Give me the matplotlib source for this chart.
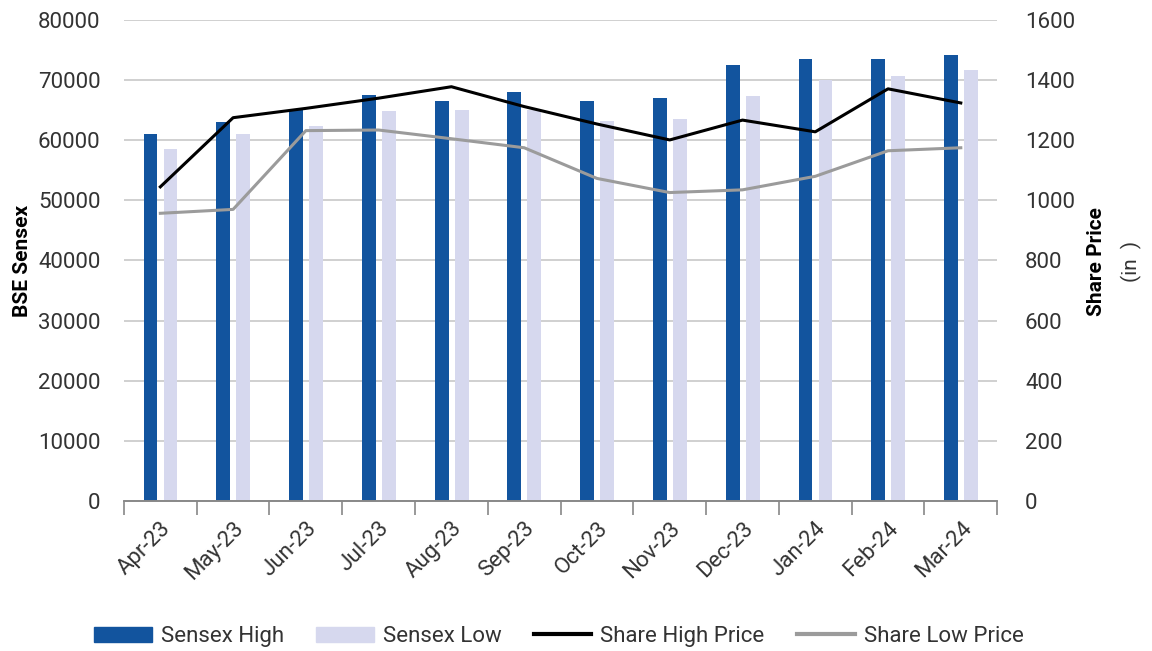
import numpy as np
import matplotlib
matplotlib.use('Agg')
import matplotlib.pyplot as plt
from matplotlib.patches import Patch
from matplotlib.lines import Line2D

plt.rcParams['font.family'] = ['Roboto', 'DejaVu Sans']

months = ['Apr-23', 'May-23', 'Jun-23', 'Jul-23', 'Aug-23', 'Sep-23',
          'Oct-23', 'Nov-23', 'Dec-23', 'Jan-24', 'Feb-24', 'Mar-24']
sensex_high = [61000, 63000, 65000, 67500, 66600, 68000,
               66500, 67000, 72500, 73500, 73500, 74200]
sensex_low = [58500, 61000, 62300, 64800, 65000, 65000,
              63200, 63500, 67400, 70000, 70700, 71700]
share_high = [1045, 1275, 1306, 1340, 1378, 1312,
              1254, 1201, 1267, 1228, 1371, 1324]
share_low = [957, 970, 1232, 1234, 1205, 1175,
             1073, 1026, 1035, 1080, 1165, 1175]

dark_blue = '#12549e'
light_blue = '#d6d8ee'
grey_line = '#9b9b9b'
text_col = '#333333'
fs = 16

fig = plt.figure(figsize=(11.52, 6.51), dpi=100)
ax = fig.add_axes([0.1076, 0.2304, 0.758, 0.7389])
ax2 = ax.twinx()

x = np.arange(len(months))
w = 0.19
ax.bar(x - 0.135, sensex_high, w, color=dark_blue, zorder=2)
ax.bar(x + 0.14, sensex_low, w, color=light_blue, zorder=2)

ax2.plot(x, share_high, color='black', lw=2.2, zorder=3)
ax2.plot(x, share_low, color=grey_line, lw=2.2, zorder=3)

ax.set_xlim(-0.5, len(months) - 0.5)
ax.set_ylim(0, 80000)
ax.set_yticks(np.arange(0, 80001, 10000))
ax2.set_ylim(0, 1600)
ax2.set_yticks(np.arange(0, 1601, 200))

ax.grid(axis='y', color='#c8c8c8', lw=1.2, zorder=0)
ax.set_axisbelow(True)

# category boundary ticks, labels in the middle
ax.set_xticks(np.arange(-0.5, len(months), 1))
ax.set_xticklabels([])
ax.set_xticks(x, minor=True)
ax.set_xticklabels(months, minor=True, rotation=45, ha='right',
                   rotation_mode='anchor', fontsize=fs, color=text_col)
ax.tick_params(axis='x', which='major', length=10, width=1.2, color='#888888')
ax.tick_params(axis='x', which='minor', length=0, pad=12)
ax.tick_params(axis='y', length=0, labelsize=fs, labelcolor=text_col, pad=17)
ax2.tick_params(axis='y', length=0, labelsize=fs, labelcolor=text_col, pad=20)

for a in (ax, ax2):
    for s in ['top', 'left', 'right']:
        a.spines[s].set_visible(False)
    a.spines['bottom'].set_color('#888888')
    a.spines['bottom'].set_linewidth(1.2)

ax.set_ylabel('BSE Sensex', fontsize=15, fontweight='bold', labelpad=4)
fig.text(0.952, 0.598, 'Share Price', rotation=90, fontsize=15,
         fontweight='bold', ha='center', va='center')
fig.text(0.982, 0.598, '(in  )', rotation=90, fontsize=15,
         ha='center', va='center', color=text_col)

handles = [Patch(color=dark_blue), Patch(color=light_blue),
           Line2D([], [], color='black', lw=3),
           Line2D([], [], color=grey_line, lw=3)]
labels = ['Sensex High', 'Sensex Low', 'Share High Price', 'Share Low Price']
fig.legend(handles, labels, loc='center', bbox_to_anchor=(0.485, 0.022),
           ncol=4, frameon=False, fontsize=fs, handlelength=2.6,
           handleheight=0.7, handletextpad=0.4, columnspacing=1.45,
           labelcolor=text_col)

fig.savefig('out.png', dpi=100)
